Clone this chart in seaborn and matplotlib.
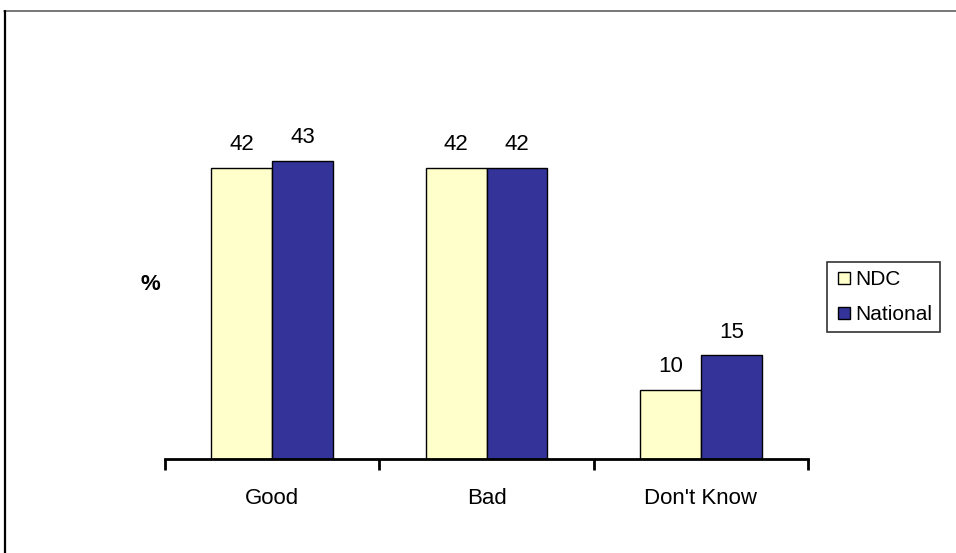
import pandas as pd
import numpy as np

import matplotlib.pyplot as plt
from matplotlib.lines import Line2D
import seaborn as sns

# ====================
#  DATA
# ====================

categories = ["Good", "Bad", "Don't Know"]
series = ["NDC", "National"]
ndc_values = [42, 42, 10]
national_values = [43, 42, 15]
colors = ["#FFFFCC", "#333399"]

data = pd.DataFrame({
    "answer": categories * 2,
    "group": [series[0]] * 3 + [series[1]] * 3,
    "value": ndc_values + national_values,
})

# ====================
#  PLOT
# ====================

sns.set_style("white")
plt.rcParams["font.family"] = ["Liberation Sans", "DejaVu Sans"]
plt.rcParams["text.color"] = "black"
plt.rcParams["xtick.color"] = "black"
plt.rcParams["xtick.labelcolor"] = "black"

fig = plt.figure(figsize=(9.56, 5.53), dpi=100)
ax = fig.add_axes([165 / 956, 94 / 553, 643 / 956, 350 / 553])

sns.barplot(data=data, x="answer", y="value", hue="group", order=categories,
            hue_order=series, palette=colors, width=0.567, gap=0,
            edgecolor="black", linewidth=1, saturation=1, ax=ax)

for container in ax.containers:
    ax.bar_label(container, padding=9, fontsize=16, color="black")

ax.set_ylim(0, 50.5)
ax.set_xlim(-0.5, 2.5)
ax.set_xlabel("")
ax.set_ylabel("")
ax.set_yticks([])

# boundary ticks downward, labels at centres
ax.set_xticks([-0.5, 0.5, 1.5, 2.5])
ax.set_xticklabels([])
ax.set_xticks([0, 1, 2], minor=True)
ax.set_xticklabels(categories, minor=True, fontsize=16)
ax.tick_params(axis="x", which="major", direction="out", length=8, width=2,
               color="black", bottom=True)
ax.tick_params(axis="x", which="minor", length=0, pad=21)

for side in ["top", "right", "left"]:
    ax.spines[side].set_visible(False)
ax.spines["bottom"].set_color("black")
ax.spines["bottom"].set_linewidth(2)

fig.text(150 / 956, 1 - 285 / 553, "%", fontsize=16, fontweight="bold",
         ha="center", va="center")

handles = [Line2D([], [], marker="s", linestyle="", markersize=8,
                  markerfacecolor=c, markeredgecolor="black") for c in colors]
leg = ax.legend(handles, series, loc="center left",
                bbox_to_anchor=(827 / 956, 1 - 297 / 553),
                bbox_transform=fig.transFigure, frameon=True, fontsize=15,
                handletextpad=0.15, handlelength=0.8, borderpad=0.4,
                labelspacing=0.75, fancybox=False, borderaxespad=0,
                handleheight=0.7)
leg.get_frame().set_edgecolor("black")
leg.get_frame().set_linewidth(1.2)

# outer frame lines
fig.add_artist(Line2D([4 / 956, 1], [1 - 11 / 553] * 2, color="#606060",
                      linewidth=1.2, transform=fig.transFigure))
fig.add_artist(Line2D([4.5 / 956] * 2, [0, 1 - 11 / 553], color="black",
                      linewidth=1.6, transform=fig.transFigure))

fig.savefig("out.png", dpi=100)
plt.close()
